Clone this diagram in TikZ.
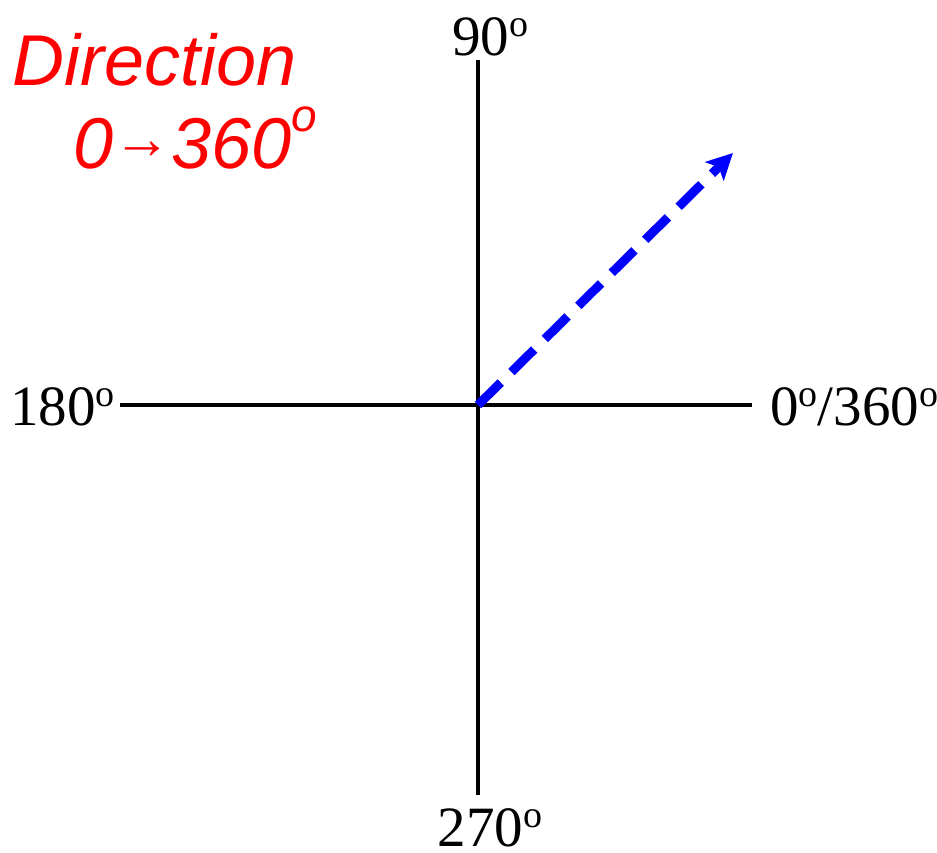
\documentclass[tikz,border=0pt]{standalone}
\usepackage{fontspec}
\usepackage{graphicx}
\setmainfont{Liberation Serif}
\newfontfamily\titlefont{Liberation Sans}
\usetikzlibrary{arrows.meta}
\newcommand{\degsign}{\raisebox{19pt}{\fontsize{38}{38}\selectfont o}}
\newcommand{\titledeg}{\raisebox{37pt}{\fontsize{46}{46}\selectfont o}}
\newcommand{\titlearrow}{\raisebox{10pt}{\fontsize{58}{58}\selectfont →}}
\tikzset{
  axis/.style={line width=4pt, black},
  deglabel/.style={font=\fontsize{57}{60}\selectfont, inner sep=0pt},
  titletext/.style={font=\titlefont\itshape\fontsize{72}{74}\selectfont, text=red, inner sep=0pt},
  dirarrow/.style={line width=9pt, blue, dash pattern=on 32pt off 15pt, -{Stealth[length=26pt,width=26pt,inset=6pt]}}
}
\begin{document}
\begin{tikzpicture}[x=1pt,y=-1pt]
\useasboundingbox (0,0) rectangle (937,852);
\coordinate (O) at (478,405);
\coordinate (L) at (120,405);
\coordinate (R) at (752,405);
\coordinate (T) at (478,60);
\coordinate (B) at (478,795);
\coordinate (tip) at (733,153);
\draw[axis] (L) -- (R);
\draw[axis] (T) -- (B);
\draw[dirarrow] (O) -- (tip);
\node[deglabel, anchor=base] (n90) at (490,55) {90\degsign};
\node[deglabel, anchor=base west] (n180) at (10,425) {180\degsign};
\node[deglabel, anchor=base west] (n0) at (770,425) {0\degsign/360\degsign};
\node[deglabel, anchor=base] (n270) at (490,846) {270\degsign};
\node[titletext, anchor=base west] (t1) at (12,85) {Direction};
\node[titletext, anchor=base west] (t2) at (73,168) {0\titlearrow 360\titledeg};
\end{tikzpicture}
\end{document}
